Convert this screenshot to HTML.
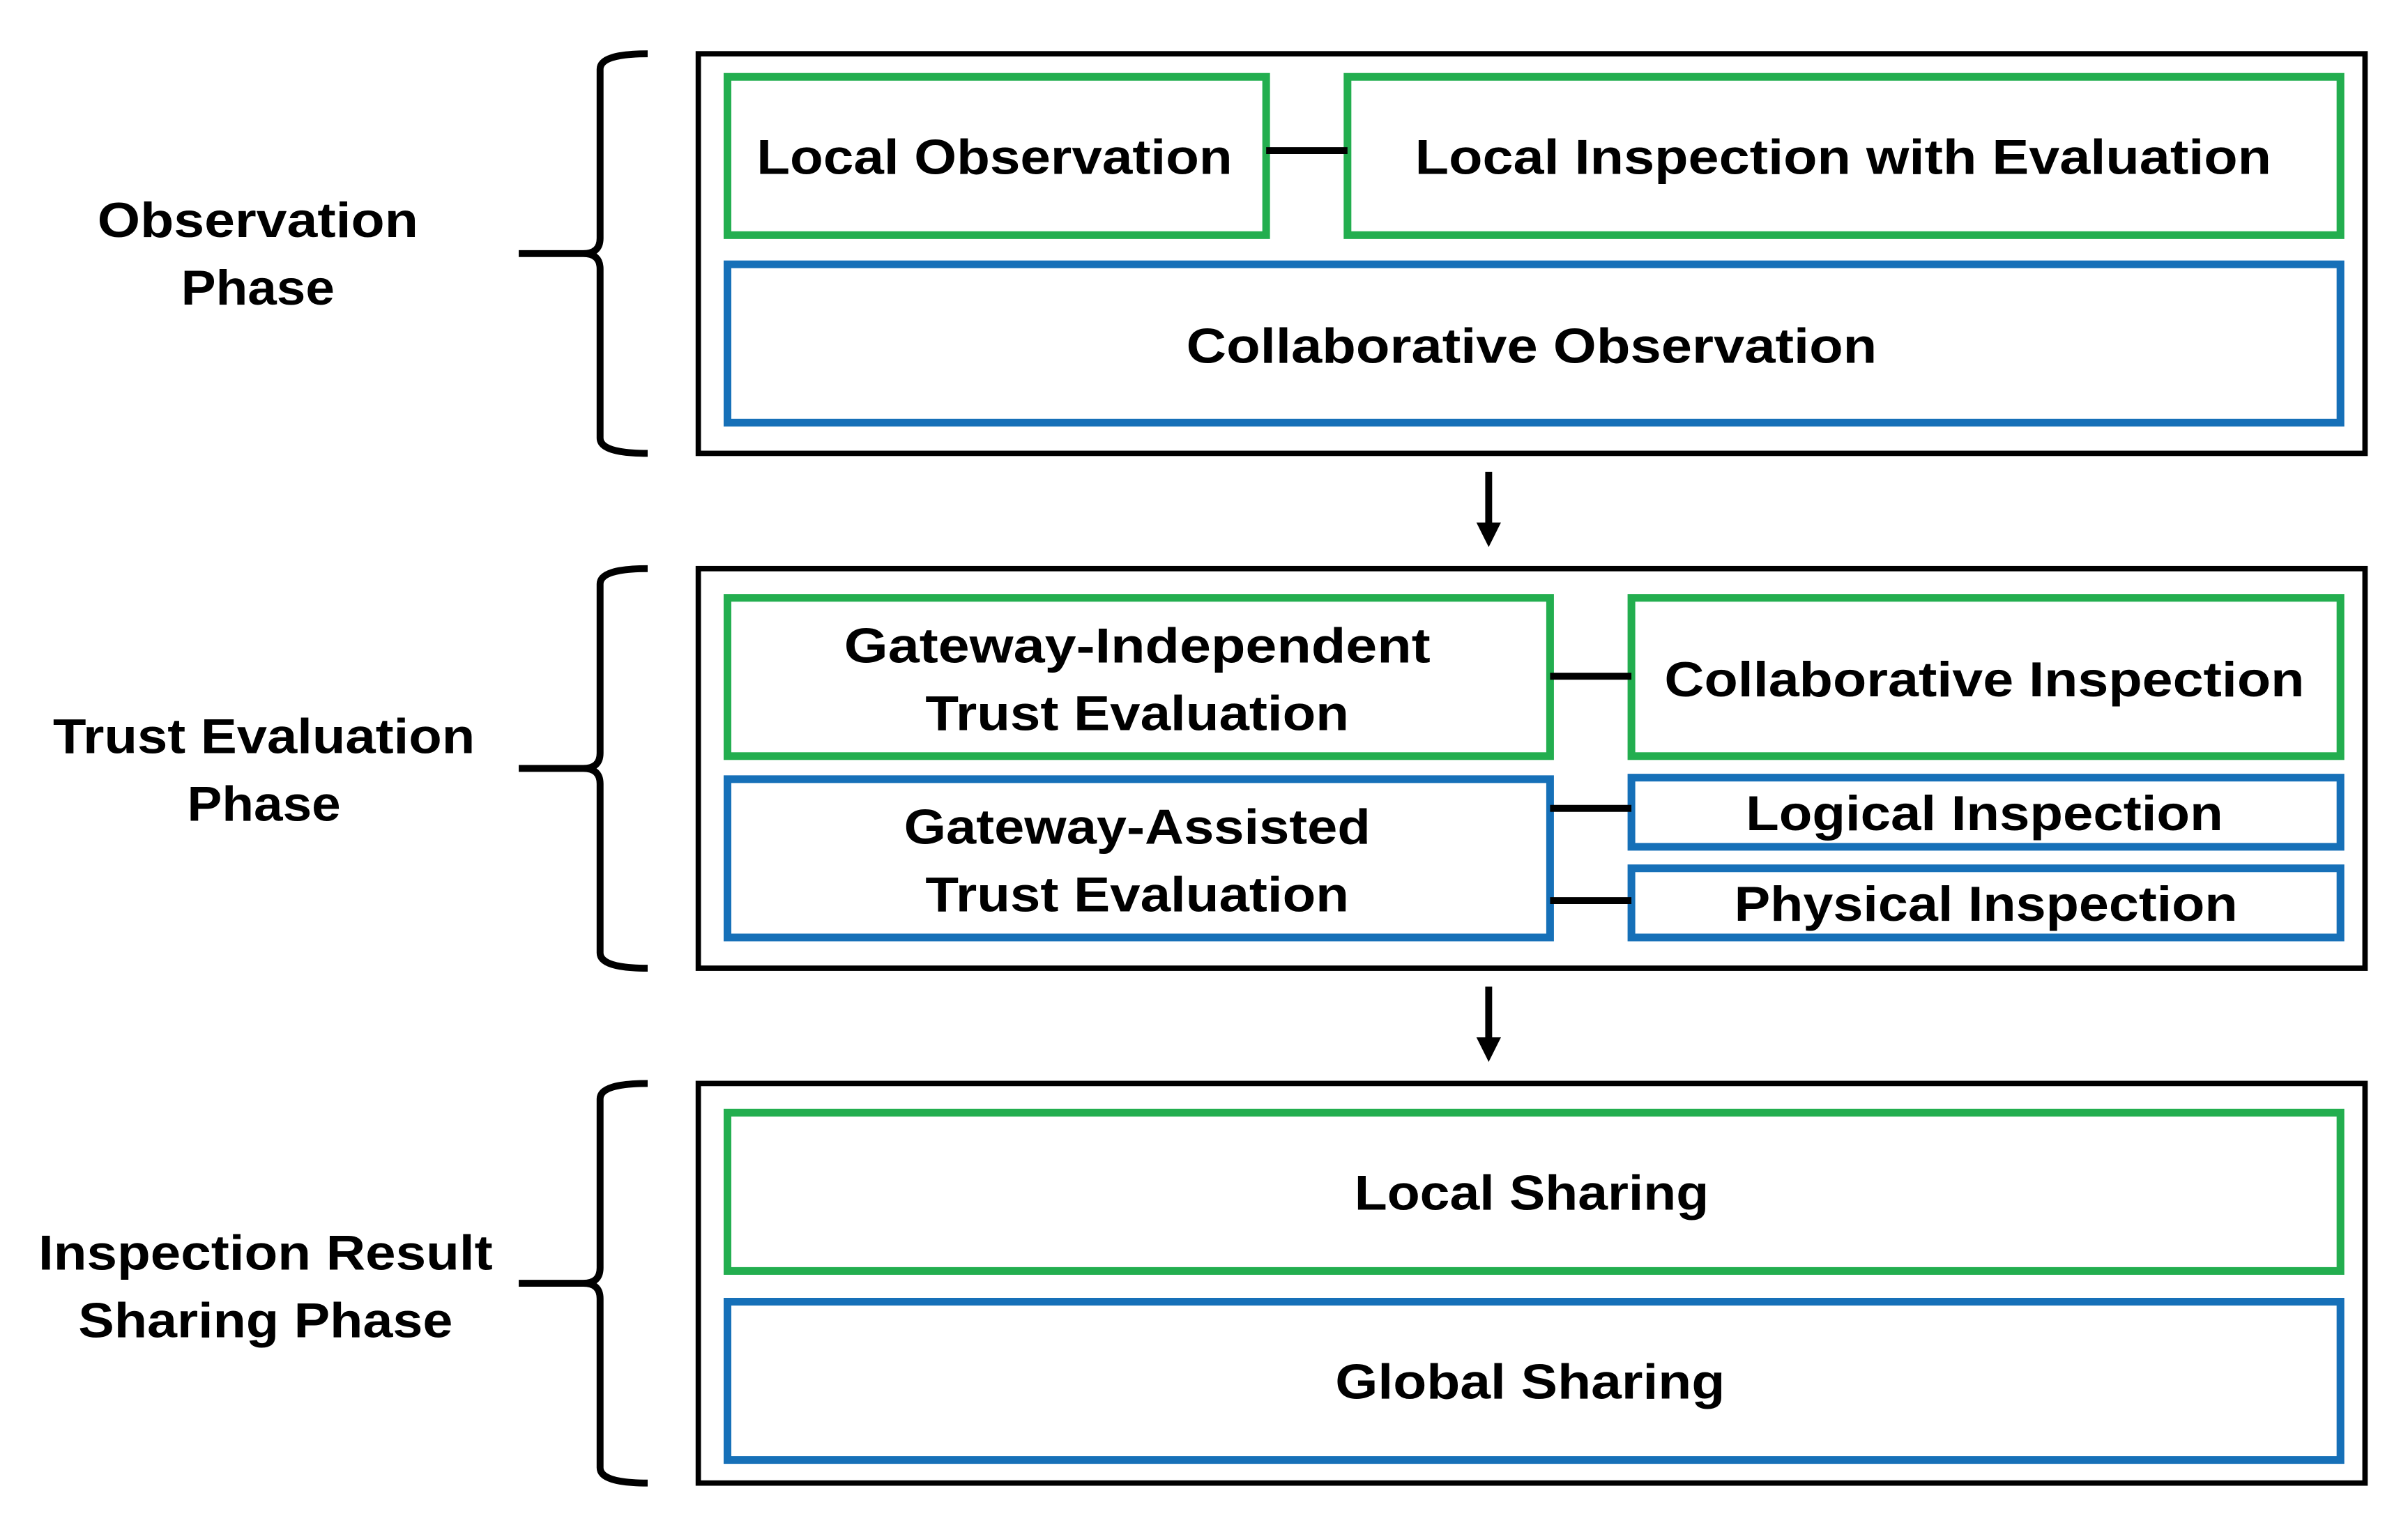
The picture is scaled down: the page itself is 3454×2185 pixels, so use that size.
<!DOCTYPE html>
<html><head><meta charset="utf-8"><style>
html,body{margin:0;padding:0;background:#fff;}
svg{display:block;}
text{font-family:"Liberation Sans",sans-serif;font-weight:bold;fill:#000;font-size:32px;text-anchor:middle;dominant-baseline:central;}
.g{fill:none;stroke:#23ae4f;stroke-width:5;}
.b{fill:none;stroke:#1670b8;stroke-width:5;}
.k{fill:none;stroke:#000;stroke-width:3.5;}
.c{stroke:#000;stroke-width:4.5;}
.br{fill:none;stroke:#000;stroke-width:4.5;}
</style></head><body>
<svg width="3454" height="2185" viewBox="0 0 1569 991" preserveAspectRatio="none" xmlns="http://www.w3.org/2000/svg">
<path class="br" d="M422,35 Q391,35 391,45 L391,155 Q391,165 380,165 L338,165 M380,165 Q391,165 391,175 L391,285 Q391,295 422,295"/>
<path class="br" d="M422,370 Q391,370 391,380 L391,490 Q391,500 380,500 L338,500 M380,500 Q391,500 391,510 L391,620 Q391,630 422,630"/>
<path class="br" d="M422,705 Q391,705 391,715 L391,825 Q391,835 380,835 L338,835 M380,835 Q391,835 391,845 L391,955 Q391,965 422,965"/>
<text x="168" y="143" textLength="209" lengthAdjust="spacingAndGlyphs">Observation</text>
<text x="168" y="187" textLength="100" lengthAdjust="spacingAndGlyphs">Phase</text>
<text x="172" y="479" textLength="275" lengthAdjust="spacingAndGlyphs">Trust Evaluation</text>
<text x="172" y="523" textLength="100" lengthAdjust="spacingAndGlyphs">Phase</text>
<text x="173" y="815" textLength="296" lengthAdjust="spacingAndGlyphs">Inspection Result</text>
<text x="173" y="859" textLength="244" lengthAdjust="spacingAndGlyphs">Sharing Phase</text>
<rect class="k" x="455" y="35" width="1086" height="260"/>
<rect class="g" x="474" y="50" width="351" height="103"/>
<rect class="g" x="878" y="50" width="647" height="103"/>
<line class="c" x1="825" y1="98" x2="878" y2="98"/>
<rect class="b" x="474" y="172" width="1051" height="103"/>
<text x="648" y="102" textLength="310" lengthAdjust="spacingAndGlyphs">Local Observation</text>
<text x="1201" y="102" textLength="558" lengthAdjust="spacingAndGlyphs">Local Inspection with Evaluation</text>
<text x="998" y="225" textLength="450" lengthAdjust="spacingAndGlyphs">Collaborative Observation</text>
<line class="c" x1="970" y1="307" x2="970" y2="342"/>
<polygon points="962,340 978,340 970,356"/>
<rect class="k" x="455" y="370" width="1086" height="260"/>
<rect class="g" x="474" y="389" width="536" height="103"/>
<rect class="g" x="1063" y="389" width="462" height="103"/>
<line class="c" x1="1010" y1="440" x2="1063" y2="440"/>
<rect class="b" x="474" y="507" width="536" height="103"/>
<rect class="b" x="1063" y="506" width="462" height="45"/>
<rect class="b" x="1063" y="565" width="462" height="45"/>
<line class="c" x1="1010" y1="526" x2="1063" y2="526"/>
<line class="c" x1="1010" y1="586" x2="1063" y2="586"/>
<text x="741" y="420" textLength="382" lengthAdjust="spacingAndGlyphs">Gateway-Independent</text>
<text x="741" y="464" textLength="276" lengthAdjust="spacingAndGlyphs">Trust Evaluation</text>
<text x="1293" y="442" textLength="417" lengthAdjust="spacingAndGlyphs">Collaborative Inspection</text>
<text x="741" y="538" textLength="304" lengthAdjust="spacingAndGlyphs">Gateway-Assisted</text>
<text x="741" y="582" textLength="276" lengthAdjust="spacingAndGlyphs">Trust Evaluation</text>
<text x="1293" y="529" textLength="311" lengthAdjust="spacingAndGlyphs">Logical Inspection</text>
<text x="1294" y="588" textLength="328" lengthAdjust="spacingAndGlyphs">Physical Inspection</text>
<line class="c" x1="970" y1="642" x2="970" y2="677"/>
<polygon points="962,675 978,675 970,691"/>
<rect class="k" x="455" y="705" width="1086" height="260"/>
<rect class="g" x="474" y="724" width="1051" height="103"/>
<rect class="b" x="474" y="847" width="1051" height="103"/>
<text x="998" y="776" textLength="231" lengthAdjust="spacingAndGlyphs">Local Sharing</text>
<text x="997" y="899" textLength="254" lengthAdjust="spacingAndGlyphs">Global Sharing</text>
</svg>
</body></html>
